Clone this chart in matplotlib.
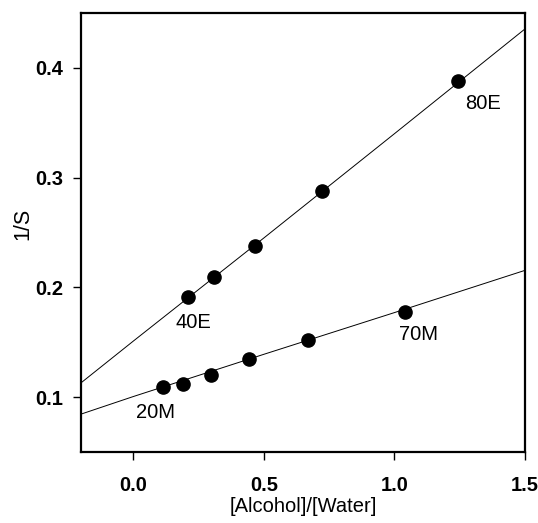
import matplotlib
matplotlib.use("Agg")
import matplotlib.pyplot as plt

# Data
ethanol_x = [0.208, 0.31, 0.465, 0.723, 1.245]
ethanol_y = [0.191, 0.209, 0.238, 0.288, 0.388]
methanol_x = [0.113, 0.191, 0.296, 0.443, 0.668, 1.042]
methanol_y = [0.109, 0.112, 0.120, 0.135, 0.152, 0.178]

# fitted curves
ethanol_fit_x = [-0.2, 0.0, 0.5, 1.0, 1.5]
ethanol_fit_y = [0.113, 0.151, 0.245, 0.340, 0.4355]
methanol_fit_x = [-0.2, 0.0, 0.5, 1.0, 1.5]
methanol_fit_y = [0.0845, 0.1005, 0.139, 0.177, 0.2155]

labels = ["40E", "80E", "20M", "70M"]
label_x = [0.231, 1.338, 0.085, 1.092]
label_y = [0.168, 0.368, 0.0864, 0.157]

xticks = [0.0, 0.5, 1.0, 1.5]
yticks = [0.1, 0.2, 0.3, 0.4]

plt.rcParams['font.family'] = ['Liberation Sans', 'DejaVu Sans']

fig = plt.figure(figsize=(5.38, 5.23), dpi=100)
ax = fig.add_axes([0.1506, 0.1358, 0.8252, 0.8393])

ax.plot(ethanol_fit_x, ethanol_fit_y, color='black', lw=0.7)
ax.plot(methanol_fit_x, methanol_fit_y, color='black', lw=0.7)
ax.plot(ethanol_x, ethanol_y, 'o', color='black', ms=9.5, zorder=3)
ax.plot(methanol_x, methanol_y, 'o', color='black', ms=9.5, zorder=3)

for t, x, y in zip(labels, label_x, label_y):
    ax.text(x, y, t, ha='center', va='center', fontsize=14.5)

ax.set_xlim(-0.2, 1.5)
ax.set_ylim(0.05, 0.45)
ax.set_xticks(xticks)
ax.set_yticks(yticks)
ax.set_xticklabels([f"{v:.1f}" for v in xticks], fontweight='bold', fontsize=14.5)
ax.set_yticklabels([f"{v:.1f}" for v in yticks], fontweight='bold', fontsize=14.5)
ax.tick_params(direction='out', length=6, width=1, pad=7, top=False, right=False)
ax.tick_params(axis='x', pad=11)
for s in ax.spines.values():
    s.set_linewidth(1.6)

ax.set_xlabel("[Alcohol]/[Water]", fontsize=14.5, labelpad=2)
ax.set_ylabel("1/S", fontsize=15.5)
ax.yaxis.set_label_coords(-0.108, 0.52)

fig.savefig("out.png", dpi=100)
